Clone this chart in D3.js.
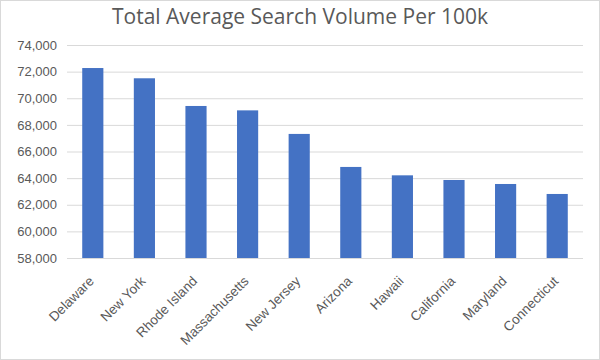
<!DOCTYPE html>
<meta charset="utf-8">
<style>
  body { margin: 0; background: #fff; }
  svg { font-family: "Open Sans", "DejaVu Sans", sans-serif; }
  .grid line { stroke: #d9d9d9; stroke-width: 1; }
  .grid path { display: none; }
  .axis path, .axis line { display: none; }
  .axis text { fill: #595959; font-size: 13px; }
  .bar { fill: #4472c4; }
</style>
<body>
<svg width="600" height="360"></svg>
<script src="https://d3js.org/d3.v7.min.js"></script>
<script>
var states = ["Delaware", "New York", "Rhode Island", "Massachusetts", "New Jersey",
              "Arizona", "Hawaii", "California", "Maryland", "Connecticut"];
var volumes = [72270, 71500, 69420, 69090, 67320, 64840, 64210, 63860, 63560, 62810];
var yTicks = [58000, 60000, 62000, 64000, 66000, 68000, 70000, 72000, 74000];

var margin = {top: 45, right: 17, bottom: 102, left: 67},
    width = 600 - margin.left - margin.right,
    height = 360 - margin.top - margin.bottom;

var svg = d3.select("svg");

svg.append("rect")
    .attr("x", 0.5).attr("y", 0.5)
    .attr("width", 599).attr("height", 359)
    .attr("fill", "#fff").attr("stroke", "#d9d9d9");

svg.append("text")
    .attr("x", 300).attr("y", 24)
    .attr("text-anchor", "middle")
    .attr("fill", "#595959")
    .style("font-size", "21px")
    .text("Total Average Search Volume Per 100k");

var g = svg.append("g")
    .attr("transform", "translate(" + margin.left + "," + margin.top + ")");

var x = d3.scaleBand().domain(states).range([0, width]).paddingInner(0.59).paddingOuter(0.295);
var y = d3.scaleLinear().domain([58000, 74000]).range([height, 0]);

g.append("g")
    .attr("class", "grid")
    .call(d3.axisLeft(y).tickValues(yTicks).tickSize(-width).tickFormat(""));

g.selectAll(".bar")
    .data(states)
    .enter().append("rect")
    .attr("class", "bar")
    .attr("x", function(d) { return x(d); })
    .attr("width", x.bandwidth())
    .attr("y", function(d, i) { return y(volumes[i]); })
    .attr("height", function(d, i) { return height - y(volumes[i]); });

g.append("g")
    .attr("class", "axis")
    .attr("transform", "translate(-2,0)")
    .call(d3.axisLeft(y).tickValues(yTicks).tickSize(0).tickPadding(8).tickFormat(d3.format(",")));

g.append("g")
    .attr("class", "axis")
    .attr("transform", "translate(0," + height + ")")
    .call(d3.axisBottom(x).tickSize(0).tickPadding(0))
  .selectAll("text")
    .attr("text-anchor", "end")
    .attr("dy", "0")
    .style("font-size", "13.5px")
    .attr("transform", "translate(2,24) rotate(-45)");
</script>
</body>
